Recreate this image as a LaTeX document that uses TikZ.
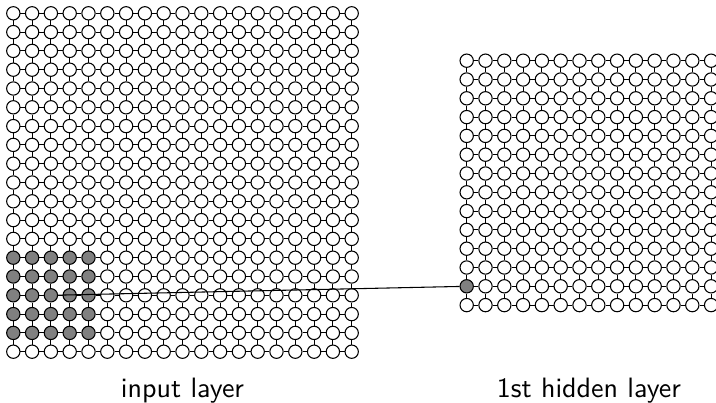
\documentclass[tikz,border=0pt]{standalone}
\begin{document}
\begin{tikzpicture}[x=0.375pt,y=-0.375pt,
  unit/.style={circle,draw=black,line width=0.4pt,inner sep=0pt,minimum size=5.0pt},
  link/.style={draw=black,line width=0.4pt},
  conn/.style={draw=black,line width=0.4pt},
  layerlabel/.style={anchor=base,inner sep=0pt,font=\sffamily\fontsize{10.5}{12}\selectfont}]
\useasboundingbox (0,0) rectangle (716,403);
\clip (0,0) rectangle (716,403);

% input layer: 19 x 19 neurons, 5 x 5 local receptive field shaded
\foreach \i in {0,...,18}{
  \foreach \j in {0,...,18}{
    \pgfmathtruncatemacro\sh{(\i<5)&&(\j>12)&&(\j<18)}
    \ifnum\sh=1 \def\fc{black!50}\else\def\fc{white}\fi
    \node[unit,fill=\fc] (in-\i-\j) at ({13.3+18.8*\i},{13.3+18.8*\j}) {};
  }
}
\foreach \i [evaluate=\i as \k using int(\i+1)] in {0,...,17}{
  \foreach \j in {0,...,18}{
    \draw[link] (in-\i-\j) -- (in-\k-\j);
    \draw[link] (in-\j-\i) -- (in-\j-\k);
  }
}

% first hidden layer: 14 x 14 neurons
\foreach \i in {0,...,13}{
  \foreach \j in {0,...,13}{
    \pgfmathtruncatemacro\sh{(\i==0)&&(\j==12)}
    \ifnum\sh=1 \def\fc{black!50}\else\def\fc{white}\fi
    \node[unit,fill=\fc] (hid-\i-\j) at ({466.7+18.8*\i},{60.7+18.8*\j}) {};
  }
}
\foreach \i [evaluate=\i as \k using int(\i+1)] in {0,...,12}{
  \foreach \j in {0,...,13}{
    \draw[link] (hid-\i-\j) -- (hid-\k-\j);
    \draw[link] (hid-\j-\i) -- (hid-\j-\k);
  }
}

% receptive field -> hidden neuron
\draw[conn] (in-2-15) -- (hid-0-12);

% labels
\node[layerlabel] (inlabel) at (182.5,397.5) {input layer};
\node[layerlabel] (hidlabel) at (588.9,397.5) {1st hidden layer};
\end{tikzpicture}
\end{document}
